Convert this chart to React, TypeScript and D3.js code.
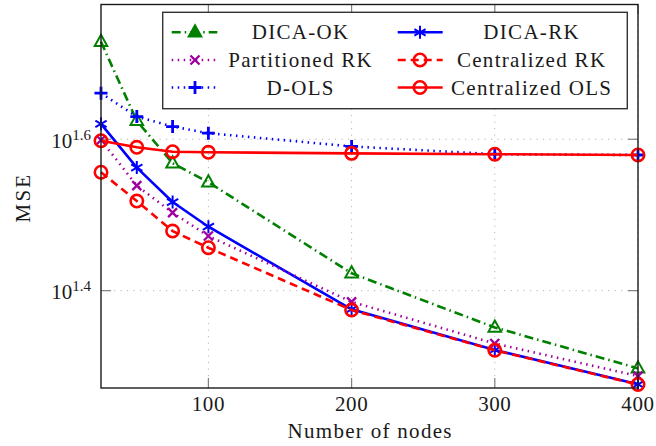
import React from "react";
import * as d3 from "d3";

const nodes = [25, 50, 75, 100, 200, 300, 400];
const dicaOK = [53.54, 42.1, 37.01, 34.93, 26.48, 22.46, 19.83];
const dicaRK = [41.72, 36.52, 32.89, 30.51, 23.73, 20.97, 18.89];
const partRK = [39.72, 34.57, 31.84, 29.66, 24.28, 21.39, 19.37];
const centRK = [36.01, 32.99, 30.11, 28.62, 23.68, 20.95, 18.88];
const dOLS = [45.8, 42.65, 41.38, 40.55, 38.95, 38.04, 37.95];
const centOLS = [39.63, 38.85, 38.33, 38.26, 38.14, 38.04, 37.95];
const xTicks = [100, 200, 300, 400];
const yTickExps = [1.4, 1.6];

type Series = { name: string; values: number[]; color: string; dash: string; marker: string };
const series: Series[] = [
  { name: "DICA-OK", values: dicaOK, color: "#008000", dash: "9 4 1.5 4", marker: "triangle" },
  { name: "DICA-RK", values: dicaRK, color: "#0000ff", dash: "", marker: "asterisk" },
  { name: "Partitioned RK", values: partRK, color: "#a000a0", dash: "1.5 4.5", marker: "x" },
  { name: "Centralized RK", values: centRK, color: "#ff0000", dash: "8 5", marker: "circle" },
  { name: "D-OLS", values: dOLS, color: "#0000ff", dash: "1.5 4.5", marker: "plus" },
  { name: "Centralized OLS", values: centOLS, color: "#ff0000", dash: "", marker: "circle" },
];

const FONT = "'Liberation Serif', 'Times New Roman', serif";
const LS = 1.3;
const W = 656, H = 446;
const L = 101, R = 638, T = 4.5, B = 388;

function Marker({ type, x, y, color, legend }: { type: string; x: number; y: number; color: string; legend?: boolean }) {
  const sw = 2.4;
  if (type === "circle") return <circle cx={x} cy={y} r={6.2} fill="none" stroke={color} strokeWidth={2.6} />;
  if (type === "triangle") {
    const s = 7;
    const p = `M${x},${y - s} L${x + s * 0.9},${y + s * 0.6} L${x - s * 0.9},${y + s * 0.6} Z`;
    return <path d={p} fill={legend ? color : "none"} stroke={color} strokeWidth={2} strokeLinejoin="miter" />;
  }
  if (type === "plus") {
    const s = 6.5;
    return <path d={`M${x - s},${y}H${x + s}M${x},${y - s}V${y + s}`} stroke={color} strokeWidth={sw + 0.4} />;
  }
  if (type === "x") {
    const s = 4.5;
    return <path d={`M${x - s},${y - s}L${x + s},${y + s}M${x - s},${y + s}L${x + s},${y - s}`} stroke={color} strokeWidth={sw} />;
  }
  const s = 6.5;
  const c = Math.cos(Math.PI / 6) * s, si = Math.sin(Math.PI / 6) * s;
  return (
    <path
      d={`M${x},${y - s}V${y + s}M${x - c},${y - si}L${x + c},${y + si}M${x - c},${y + si}L${x + c},${y - si}`}
      stroke={color}
      strokeWidth={2}
    />
  );
}

export default function App() {
  const x = d3.scaleLinear().domain([25, 400]).range([L, R]);
  const y = d3.scaleLog().domain([Math.pow(10, 1.2714), Math.pow(10, 1.778)]).range([B, T]);
  const line = d3
    .line<number>()
    .x((_, i) => x(nodes[i]))
    .y((v) => y(v));

  const legendCols = [
    { sx0: 171.7, sx1: 217.3, mx: 195, tx: 300 },
    { sx0: 397.7, sx1: 442.7, mx: 420, tx: 531 },
  ];
  const rowBase = [39.3, 67, 94.5];

  return (
    <svg width={W} height={H} style={{ position: "absolute", left: 0, top: 0, background: "#fff" }} fontFamily={FONT}>
      <defs>
        <clipPath id="plotclip">
          <rect x={L - 8} y={T - 8} width={R - L + 16} height={B - T + 16} />
        </clipPath>
      </defs>
      {xTicks.map((t) => (
        <line key={"gx" + t} x1={x(t)} x2={x(t)} y1={T} y2={B} stroke="#b4b4b4" strokeWidth={1} strokeDasharray="1.2 5.3" />
      ))}
      {yTickExps.map((e) => (
        <line key={"gy" + e} x1={L} x2={R} y1={y(Math.pow(10, e))} y2={y(Math.pow(10, e))} stroke="#b4b4b4" strokeWidth={1} strokeDasharray="1.2 5.3" />
      ))}
      {xTicks.map((t) => (
        <g key={"tx" + t}>
          <line x1={x(t)} x2={x(t)} y1={B} y2={B - 10} stroke="#808080" strokeWidth={1.2} />
          <line x1={x(t)} x2={x(t)} y1={T} y2={T + 10} stroke="#808080" strokeWidth={1.2} />
        </g>
      ))}
      {yTickExps.map((e) => (
        <g key={"ty" + e}>
          <line x1={L} x2={L + 10} y1={y(Math.pow(10, e))} y2={y(Math.pow(10, e))} stroke="#808080" strokeWidth={1.2} />
          <line x1={R} x2={R - 10} y1={y(Math.pow(10, e))} y2={y(Math.pow(10, e))} stroke="#808080" strokeWidth={1.2} />
        </g>
      ))}
      <g clipPath="url(#plotclip)">
        {series.map((s) => (
          <g key={s.name}>
            <path d={line(s.values) || ""} fill="none" stroke={s.color} strokeWidth={2.6} strokeDasharray={s.dash || undefined} strokeLinejoin="round" />
            {s.values.map((v, i) => (
              <Marker key={i} type={s.marker} x={x(nodes[i])} y={y(v)} color={s.color} />
            ))}
          </g>
        ))}
      </g>
      <rect x={L} y={T} width={R - L} height={B - T} fill="none" stroke="#1a1a1a" strokeWidth={1.4} />
      {xTicks.map((t) => (
        <text key={"lx" + t} x={x(t)} y={410.5} textAnchor="middle" fontSize={21} fill="#1a1a1a" letterSpacing={0.6}>
          {t}
        </text>
      ))}
      {yTickExps.map((e) => (
        <text key={"ly" + e} x={91} y={y(Math.pow(10, e)) + 8.5} textAnchor="end" fontSize={21} fill="#1a1a1a">
          10
          <tspan dy={-8} fontSize={15}>
            {e.toFixed(1)}
          </tspan>
        </text>
      ))}
      <text x={369.5 + LS / 2} y={437.5} textAnchor="middle" fontSize={21} fill="#1a1a1a" letterSpacing={LS}>
        Number of nodes
      </text>
      <text transform={`translate(29.5,${(T + B) / 2 + LS}) rotate(-90)`} textAnchor="middle" fontSize={21} fill="#1a1a1a" letterSpacing={LS + 1}>
        MSE
      </text>
      <rect x={162.7} y={12.3} width={627.3 - 162.7} height={108.7 - 12.3} fill="#fff" stroke="#333" strokeWidth={1.4} />
      {series.map((s, i) => {
        const col = legendCols[i % 2];
        const row = Math.floor(i / 2);
        const cy = rowBase[row] - 7;
        return (
          <g key={"lg" + s.name}>
            <line x1={col.sx0} x2={col.sx1} y1={cy} y2={cy} stroke={s.color} strokeWidth={2.6} strokeDasharray={s.dash || undefined} />
            <Marker type={s.marker} x={col.mx} y={cy} color={s.color} legend />
            <text x={col.tx + LS / 2} y={rowBase[row]} textAnchor="middle" fontSize={21} fill="#1a1a1a" letterSpacing={LS}>
              {s.name}
            </text>
          </g>
        );
      })}
    </svg>
  );
}
